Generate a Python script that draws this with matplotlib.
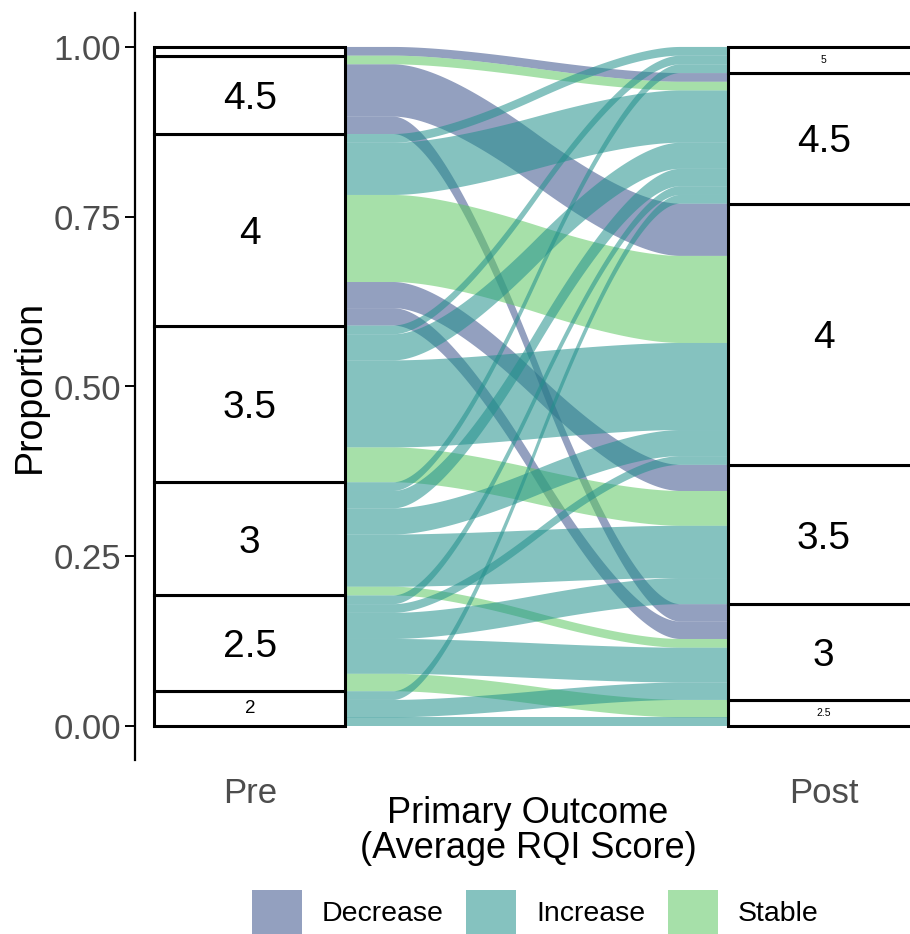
import matplotlib
matplotlib.use("Agg")
import matplotlib.pyplot as plt
from matplotlib.patches import Rectangle, Patch, Polygon
import numpy as np

plt.rcParams["font.family"] = ["Liberation Sans", "DejaVu Sans"]

# one row per flow: pre score -> post score, number of people
pre_score = [5, 4.5, 4.5, 4.5, 4, 4, 4, 4, 4, 3.5, 3.5, 3.5, 3.5,
             3, 3, 3, 3, 3, 2.5, 2.5, 2.5, 2.5, 2.5, 2, 2, 2]
post_score = [4.5, 4.5, 4, 3, 5, 4.5, 4, 3.5, 3, 5, 4.5, 4, 3.5,
              5, 4.5, 4, 3.5, 3, 4.5, 4, 3.5, 3, 2.5, 4.5, 3, 2.5]
n_people = [1, 1, 6, 2, 1, 6, 10, 3, 2, 1, 3, 10, 4,
            1, 2, 3, 6, 1, 1, 1, 3, 4, 2, 1, 2, 1]

axis_labels = ["Pre", "Post"]
change_labels = ["Decrease", "Increase", "Stable"]
change_colors = ["#3B528B", "#21908C", "#5DC863"]
ALPHA = 0.55

pre_score = np.array(pre_score, dtype=float)
post_score = np.array(post_score, dtype=float)
n_people = np.array(n_people, dtype=float)
N = n_people.sum()


def change_of(a, b):
	if b < a:
		return 0
	if b > a:
		return 1
	return 2


def strata(scores):
	# bottom / height of each stratum, low scores at the bottom
	levels = np.unique(scores)
	out = {}
	base = 0.0
	for lv in levels:
		h = n_people[scores == lv].sum() / N
		out[lv] = (base, h)
		base += h
	return out


def lode_bottoms(own, other):
	st = strata(own)
	bots = np.zeros(len(own))
	for i in range(len(own)):
		same = (own == own[i]) & (other < other[i])
		bots[i] = st[own[i]][0] + n_people[same].sum() / N
	return bots


def chaikin(pts, k=6):
	for _ in range(k):
		new = [pts[0]]
		for a, b in zip(pts[:-1], pts[1:]):
			new.append(0.75 * a + 0.25 * b)
			new.append(0.25 * a + 0.75 * b)
		new.append(pts[-1])
		pts = np.array(new)
	return pts


def curve(x0, x1, y0, y1):
	d = x1 - x0
	ctrl = np.array([[x0, y0], [x0 + d / 4, y0], [x1 - d / 4, y1], [x1, y1]])
	return chaikin(ctrl)


fig = plt.figure(figsize=(9.1, 9.34), dpi=100)
ax = fig.add_axes([135 / 910, (934 - 760) / 934, 775 / 910, 747 / 934])

W = 1 / 3
xl, xr = 1 + W / 2, 2 - W / 2
left_bot = lode_bottoms(pre_score, post_score)
right_bot = lode_bottoms(post_score, pre_score)

for i in range(len(n_people)):
	h = n_people[i] / N
	top = curve(xl, xr, left_bot[i] + h, right_bot[i] + h)
	bot = curve(xl, xr, left_bot[i], right_bot[i])
	poly = np.vstack([top, bot[::-1]])
	c = change_colors[change_of(pre_score[i], post_score[i])]
	ax.add_patch(Polygon(poly, closed=True, facecolor=c, alpha=ALPHA,
		edgecolor='none', zorder=1))

for xpos, scores in [(1, pre_score), (2, post_score)]:
	for lv, (b, h) in strata(scores).items():
		ax.add_patch(Rectangle((xpos - W / 2, b), W, h, facecolor='white',
			edgecolor='black', linewidth=2.2, zorder=3))
		cnt = h * N
		if cnt >= 8:
			fs, dy = 28, 0.006
		elif cnt >= 4:
			fs, dy = 13.5, 0.0
		elif cnt >= 2:
			fs, dy = 7.5, 0.0
		else:
			continue
		lab = ('%g' % lv)
		ax.text(xpos, b + h / 2 - dy, lab, ha='center', va='center',
			fontsize=fs, color='black', zorder=4)

ax.set_xlim(0.8, 0.8 + 775 / 574)
ax.set_ylim(-0.05, 1.05)
for s in ['top', 'right', 'bottom']:
	ax.spines[s].set_visible(False)
ax.spines['left'].set_linewidth(1.6)
ax.set_yticks([0, 0.25, 0.5, 0.75, 1.0])
ax.set_yticklabels(['0.00', '0.25', '0.50', '0.75', '1.00'])
ax.set_xticks([1, 2])
ax.set_xticklabels(axis_labels)
ax.tick_params(axis='y', length=7, width=1.4, labelsize=25,
	labelcolor='#4D4D4D', pad=3)
ax.tick_params(axis='x', length=0, labelsize=25, labelcolor='#4D4D4D', pad=12)

fig.text(30 / 910, 0.5857, 'Proportion', rotation=90, ha='center', va='center',
	fontsize=27)
fig.text(528 / 910, (934 - 831) / 934, 'Primary Outcome\n(Average RQI Score)',
	ha='center', va='center', fontsize=26, linespacing=1.0)

handles = [Patch(facecolor=c, alpha=ALPHA, edgecolor='none') for c in change_colors]
fig.legend(handles, change_labels, loc='center', bbox_to_anchor=(535 / 910, 0.023),
	ncol=3, frameon=False, fontsize=20.5, handlelength=1.75, handleheight=2.1,
	handletextpad=0.7, columnspacing=0.8)

fig.savefig('out.png', dpi=100)
